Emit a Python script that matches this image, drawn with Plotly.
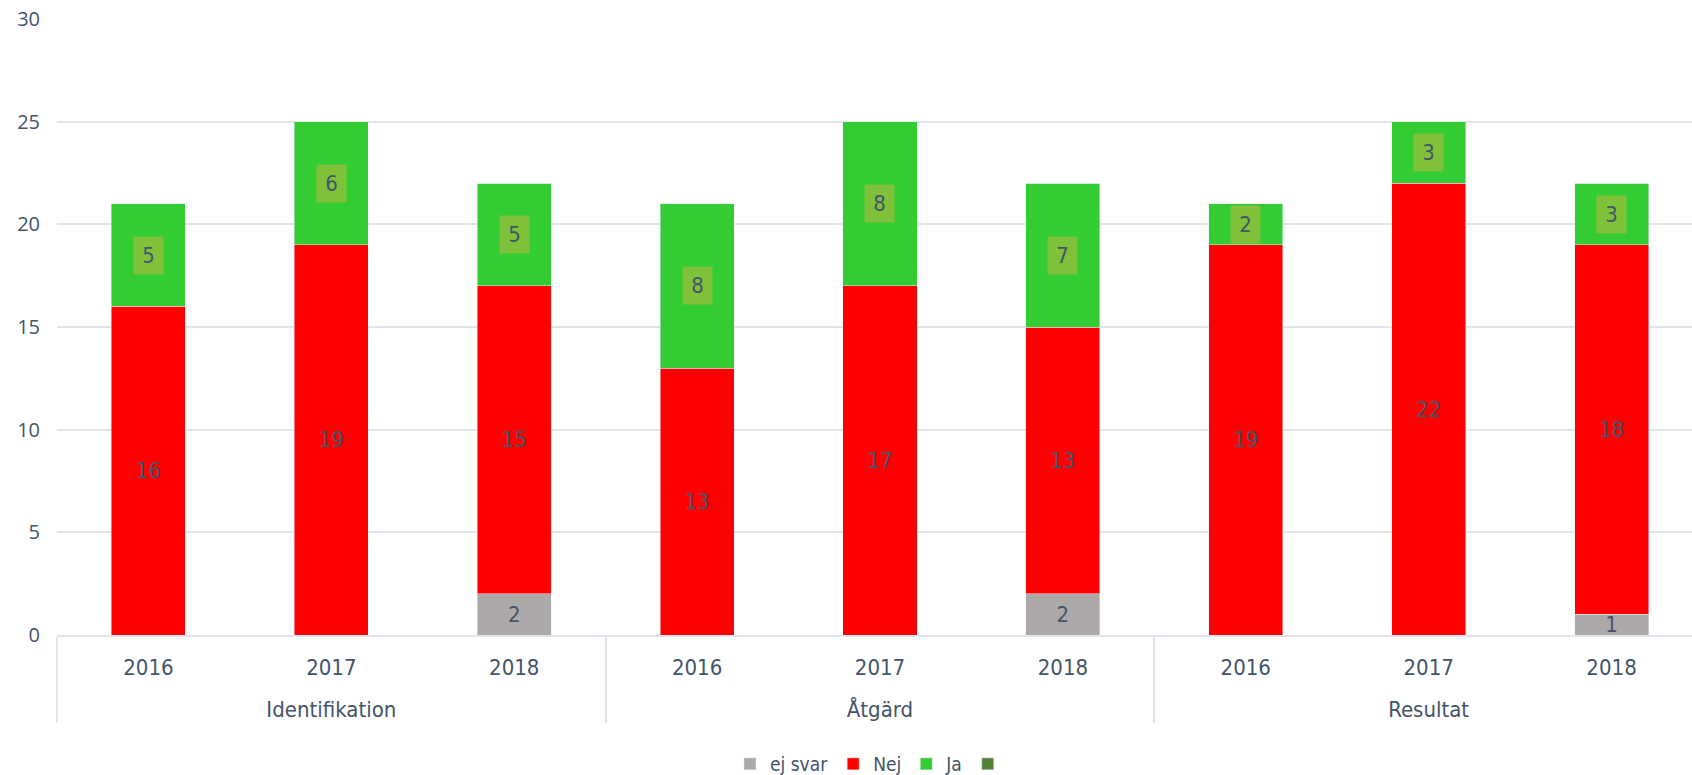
import plotly.graph_objects as go

groups = ["Identifikation"] * 3 + ["Åtgärd"] * 3 + ["Resultat"] * 3
years = ["2016", "2017", "2018"] * 3
ej_svar = [0, 0, 2, 0, 0, 2, 0, 0, 1]
nej = [16, 19, 15, 13, 17, 13, 19, 22, 18]
ja = [5, 6, 5, 8, 8, 7, 2, 3, 3]
extra = [0, 0, 0, 0, 0, 0, 0, 0, 0]

TXT = "#44546A"
NARROW = "DejaVu Sans Condensed, DejaVu Sans, sans-serif"

# year label with an extra small spacer line to push the group level down
year_disp = [y + "<br><span style='font-size:12px'> </span>" for y in years]
x = [groups, year_disp]

fig = go.Figure()
fig.add_trace(go.Bar(x=x, y=ej_svar, name="ej svar", marker_color="#ADA9A8",
                     text=[str(v) if v else "" for v in ej_svar],
                     textposition="inside", insidetextanchor="middle", constraintext="none",
                     textangle=0, textfont=dict(color=TXT, size=22, family=NARROW)))
fig.add_trace(go.Bar(x=x, y=nej, name="Nej", marker_color="#FF0000",
                     text=[str(v) for v in nej],
                     textposition="inside", insidetextanchor="middle", constraintext="none",
                     textangle=0, textfont=dict(color=TXT, size=22, family=NARROW)))
fig.add_trace(go.Bar(x=x, y=ja, name="Ja", marker_color="#33CC33"))
fig.add_trace(go.Bar(x=x, y=extra, name=" ", marker_color="#548235"))

for i in range(len(ja)):
    fig.add_annotation(x=i, y=ej_svar[i] + nej[i] + ja[i] / 2, xref="x", yref="y",
                       text=str(ja[i]), showarrow=False, bgcolor="#7FC23A",
                       width=29, height=37, borderpad=0,
                       font=dict(color=TXT, size=22, family=NARROW))

fig.update_layout(
    barmode="stack", bargap=0.595,
    width=1692, height=775,
    margin=dict(l=57, r=0, t=19, b=140, autoexpand=False),
    plot_bgcolor="white", paper_bgcolor="white",
    font=dict(color=TXT, family=NARROW),
    legend=dict(orientation="h", x=0.5, xanchor="center",
                y=-0.2094, yanchor="middle",
                font=dict(size=19, color=TXT, family=NARROW), traceorder="normal",
                itemwidth=30),
    showlegend=True,
)
fig.update_yaxes(range=[0, 30], dtick=5, showgrid=True, gridcolor="#E1E5EB", gridwidth=2,
                 zeroline=False, tickfont=dict(family="Open Sans", size=20, color=TXT),
                 ticks="", ticklabelstandoff=16)
fig.update_xaxes(type="multicategory", range=[-0.5, 8.44], showline=True,
                 linecolor="#E1E5EB", linewidth=2,
                 showdividers=True, dividercolor="#E1E5EB", dividerwidth=2,
                 tickfont=dict(family=NARROW, size=22, color=TXT), ticks="",
                 ticklabelstandoff=12)

fig.write_html("out.html", config={"displayModeBar": False},
               post_script="document.body.style.margin='0';")
